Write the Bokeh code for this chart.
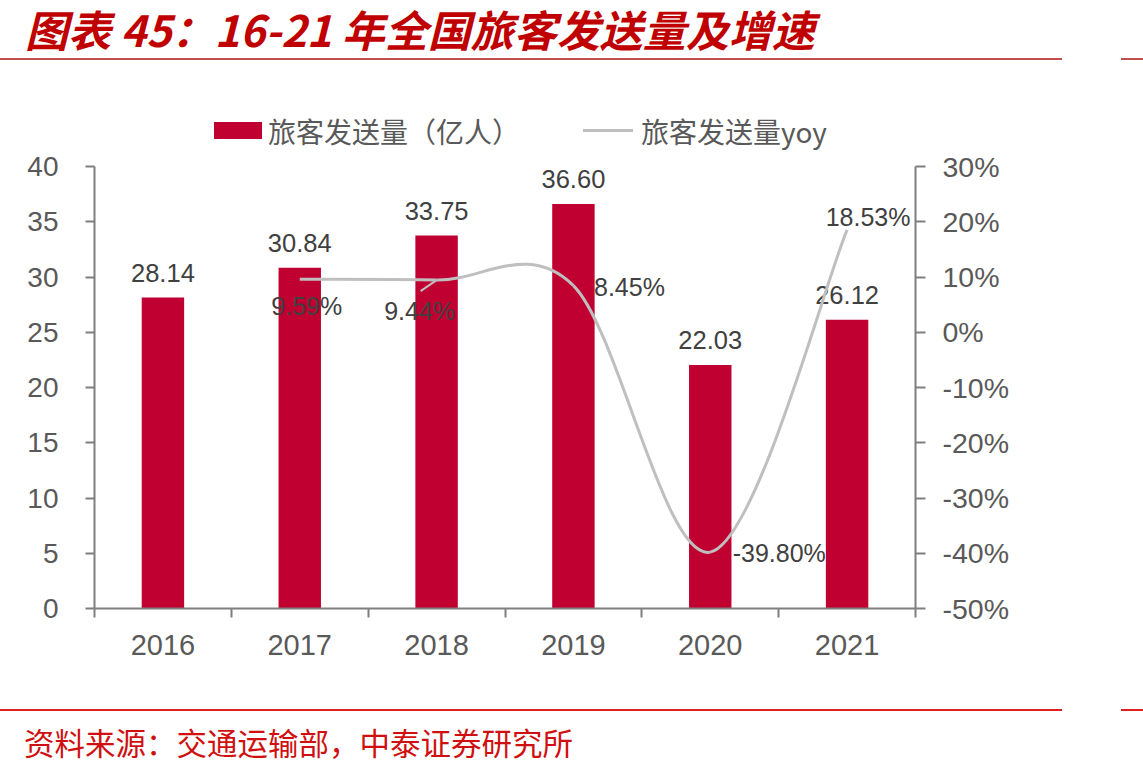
from bokeh.plotting import figure
from bokeh.layouts import column
from bokeh.models import (Range1d, LinearAxis, FixedTicker, SingleIntervalTicker,
                          PrintfTickFormatter, Div)
from bokeh.embed import file_html
from bokeh.resources import INLINE
from bokeh.core.properties import value

# ---- data ----
years = ["2016", "2017", "2018", "2019", "2020", "2021"]
passengers = [28.14, 30.84, 33.75, 36.60, 22.03, 26.12]      # 亿人
yoy = [None, 9.59, 9.44, 8.45, -39.80, 18.53]                 # %

title_text = "图表 45：16-21 年全国旅客发送量及增速"
bar_name = "旅客发送量（亿人）"
line_name = "旅客发送量yoy"
source_text = "资料来源：交通运输部，中泰证券研究所"

# ---- layout (pixels) ----
W = 1143
HEAD_H, CHART_H, FOOT_H = 150, 540, 84
L, R, T, B = 94, 228, 16, 82
FRAME_W = W - L - R
FRAME_H = CHART_H - T - B

BAR_COLOR = "#C00030"
LINE_COLOR = "#BFBFBF"
AXIS_COLOR = "#7F7F7F"
TICK_TEXT = "#595959"
LABEL_TEXT = "#404040"
NUM_FONT = "Liberation Sans"
CJK_FONT = "Noto Sans CJK SC"


def box(left, top, width, height, css=""):
    return (f'<div style="position:absolute;left:{left}px;top:{top}px;width:{width}px;'
            f'height:{height}px;{css}"></div>')


def line_text(left, top, width, height, text, css):
    return (f'<div style="position:absolute;left:{left}px;top:{top}px;width:{width}px;'
            f'height:{height}px;line-height:{height}px;white-space:nowrap;'
            f'overflow:visible;{css}">{text}</div>')


# ---- header: title, rule, legend ----
head_html = (
    f'<div style="position:relative;width:{W}px;height:{HEAD_H}px;">'
    + line_text(25, 4, 1000, 48, title_text,
                f"font-family:'{CJK_FONT}';font-size:43px;font-weight:bold;"
                "font-style:italic;color:#C00000;")
    + box(0, 58, 1062, 2, "background:#C0504D;")
    + box(1121, 58, W - 1121, 2, "background:#C0504D;")
    + box(214, 122, 48, 17, f"background:{BAR_COLOR};")
    + line_text(268, 113, 290, 36, bar_name,
                f"font-family:'{CJK_FONT}';font-size:28px;color:{TICK_TEXT};")
    + box(583, 129, 50, 3, f"background:{LINE_COLOR};")
    + line_text(641, 113, 230, 36, line_name,
                f"font-family:'{CJK_FONT}';font-size:28px;color:{TICK_TEXT};")
    + '</div>'
)
head = Div(text=head_html, width=W, height=HEAD_H, margin=0)

# ---- chart ----
xc = [i + 0.5 for i in range(len(years))]

p = figure(width=W, height=CHART_H, x_range=Range1d(0, len(years)), y_range=Range1d(0, 40),
           output_backend="svg", toolbar_location=None,
           min_border_left=L, min_border_right=R, min_border_top=T, min_border_bottom=B,
           background_fill_color="white", border_fill_color="white")
p.outline_line_color = None
p.grid.visible = False
p.extra_y_ranges = {"yoy": Range1d(-50, 30)}

# x axis: tick marks between categories, labels at category centres
xa = p.xaxis[0]
xa.ticker = FixedTicker(ticks=xc, minor_ticks=list(range(len(years) + 1)))
xa.major_label_overrides = {x: y for x, y in zip(xc, years)}
xa.major_tick_out = 0
xa.major_tick_in = 0
xa.minor_tick_out = 9
xa.minor_tick_in = 0
xa.minor_tick_line_color = AXIS_COLOR
xa.minor_tick_line_width = 2
xa.axis_line_color = AXIS_COLOR
xa.axis_line_width = 2
xa.major_label_text_font = NUM_FONT
xa.major_label_text_font_size = "29px"
xa.major_label_text_color = TICK_TEXT
xa.major_label_standoff = 17

ya = p.yaxis[0]
ya.ticker = SingleIntervalTicker(interval=5)
ya.minor_tick_line_color = None
ya.major_tick_out = 9
ya.major_tick_in = 0
ya.major_tick_line_color = AXIS_COLOR
ya.major_tick_line_width = 2
ya.axis_line_color = AXIS_COLOR
ya.axis_line_width = 2
ya.major_label_text_font = NUM_FONT
ya.major_label_text_font_size = "28px"
ya.major_label_text_color = TICK_TEXT
ya.major_label_standoff = 27

yr = LinearAxis(y_range_name="yoy", ticker=SingleIntervalTicker(interval=10),
                formatter=PrintfTickFormatter(format="%d%%"))
yr.minor_tick_line_color = None
yr.major_tick_out = 10
yr.major_tick_in = 0
yr.major_tick_line_color = AXIS_COLOR
yr.major_tick_line_width = 2
yr.axis_line_color = AXIS_COLOR
yr.axis_line_width = 2
yr.major_label_text_font = NUM_FONT
yr.major_label_text_font_size = "28.5px"
yr.major_label_text_color = TICK_TEXT
yr.major_label_standoff = 17
p.add_layout(yr, "right")

# ---- bars ----
p.vbar(x=xc, top=passengers, width=0.31, fill_color=BAR_COLOR, line_color=None)
p.text(x=xc, y=passengers, text=[f"{v:.2f}" for v in passengers],
       text_align="center", text_baseline="middle", y_offset=-25,
       text_font=value(NUM_FONT), text_font_size="25.5px", text_color=LABEL_TEXT)

# ---- smoothed yoy line (cardinal Bezier through the points) ----
pts = [(x, v) for x, v in zip(xc, yoy) if v is not None]
n = len(pts)
bx0, by0, bx1, by1, bcx0, bcy0, bcx1, bcy1 = ([] for _ in range(8))
for i in range(n - 1):
    pm, p0, p1, p2 = pts[max(i - 1, 0)], pts[i], pts[i + 1], pts[min(i + 2, n - 1)]
    bx0.append(p0[0]); by0.append(p0[1])
    bx1.append(p1[0]); by1.append(p1[1])
    bcx0.append(p0[0] + (p1[0] - pm[0]) / 6); bcy0.append(p0[1] + (p1[1] - pm[1]) / 6)
    bcx1.append(p1[0] - (p2[0] - p0[0]) / 6); bcy1.append(p1[1] - (p2[1] - p0[1]) / 6)
p.bezier(x0=bx0, y0=by0, x1=bx1, y1=by1, cx0=bcx0, cy0=bcy0, cx1=bcx1, cy1=bcy1,
         line_color=LINE_COLOR, line_width=3, y_range_name="yoy")

# yoy data labels, each nudged off its point (screen px)
lx = [x for x, v in zip(xc, yoy) if v is not None]
lv = [v for v in yoy if v is not None]
label_dx = [7, -17, 56, 69, 21]
label_dy = [27, 31, 1, 1, -13]
p.text(x=lx, y=lv, text=[f"{v:.2f}%" for v in lv], x_offset=label_dx, y_offset=label_dy,
       text_align="center", text_baseline="middle", y_range_name="yoy",
       text_font=value(NUM_FONT), text_font_size="25px", text_color=LABEL_TEXT)

# leader line from the 2018 label to its point
px_per_x = FRAME_W / len(years)
px_per_pct = FRAME_H / 80
i18 = years.index("2018")
p.segment(x0=[xc[i18] - 16 / px_per_x], y0=[yoy[i18] - 11 / px_per_pct],
          x1=[xc[i18]], y1=[yoy[i18]], line_color=LINE_COLOR, line_width=2,
          y_range_name="yoy")

# ---- footer: rule and source note ----
foot_html = (
    f'<div style="position:relative;width:{W}px;height:{FOOT_H}px;">'
    + box(0, 19, 1062, 2, "background:#E02020;")
    + box(1121, 19, W - 1121, 2, "background:#E02020;")
    + line_text(24, 33, 700, 38, source_text,
                f"font-family:'{CJK_FONT}';font-size:30.5px;color:#D01010;")
    + '</div>'
)
foot = Div(text=foot_html, width=W, height=FOOT_H, margin=0)

layout = column(head, p, foot, spacing=0)
open("out.html", "w").write(file_html(layout, INLINE))
